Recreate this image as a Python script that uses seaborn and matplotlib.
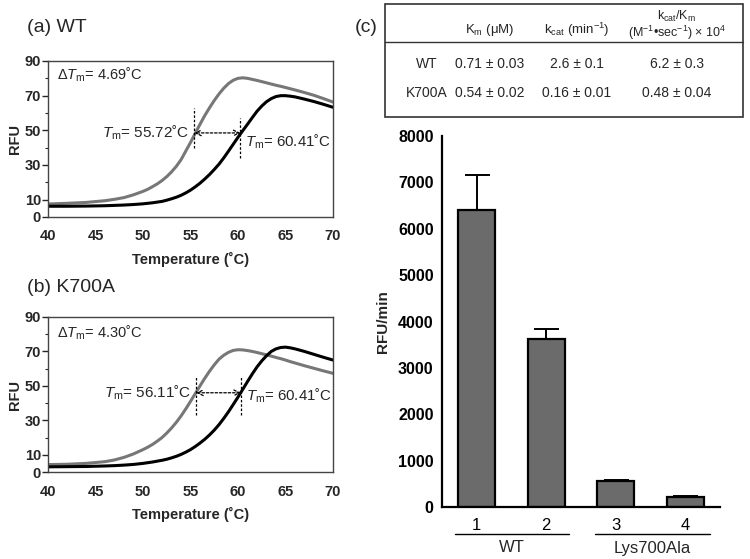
import numpy as np
import pandas as pd
import matplotlib
matplotlib.use("Agg")
import matplotlib.pyplot as plt
from matplotlib.ticker import MultipleLocator, FixedLocator
import seaborn as sns

sns.set_theme(style="white")
plt.rcParams["font.family"] = ["Liberation Sans", "DejaVu Sans"]
plt.rcParams["mathtext.fontset"] = "custom"
plt.rcParams["mathtext.rm"] = "Liberation Sans"
plt.rcParams["mathtext.it"] = "Liberation Sans:italic"
plt.rcParams["mathtext.bf"] = "Liberation Sans:bold"

# --- Melt curve data ---
temp = [40, 42, 44, 46, 47, 48, 49, 50, 50.5, 51, 51.5, 52, 52.5, 53, 53.5, 54,
        54.5, 55, 55.5, 56, 56.5, 57, 57.5, 58, 58.5, 59, 59.5, 60, 60.5, 61,
        61.5, 62, 62.5, 63, 63.5, 64, 64.5, 65, 65.5, 66, 67, 68, 69, 70]

wt_gray = [7.5, 7.9, 8.4, 9.4, 10.2, 11.2, 12.8, 14.8, 16.0, 17.5, 19.1, 21.0,
           23.3, 26.0, 29.2, 33.0, 38.0, 43.0, 48.3, 53.5, 58.5, 63.0, 67.2, 71.0,
           74.3, 77.0, 78.9, 80.0, 80.3, 80.0, 79.4, 78.8, 78.1, 77.4, 76.7, 76.0,
           75.4, 74.7, 74.0, 73.3, 71.8, 70.2, 68.3, 66.3]
wt_black = [6.2, 6.2, 6.3, 6.5, 6.7, 6.9, 7.2, 7.6, 7.9, 8.2, 8.6, 9.0,
            9.7, 10.5, 11.4, 12.5, 13.9, 15.5, 17.4, 19.5, 21.9, 24.5, 27.4, 30.5,
            34.1, 38.0, 42.0, 46.0, 49.8, 53.5, 57.3, 61.0, 64.0, 66.5, 68.3, 69.5,
            70.0, 70.0, 69.7, 69.3, 68.0, 66.6, 65.0, 63.3]

k7_gray = [4.3, 4.5, 5.0, 6.0, 7.0, 8.5, 10.5, 13.0, 14.4, 16.0, 17.9, 20.0,
           22.6, 25.5, 28.8, 32.5, 36.6, 41.0, 45.5, 50.0, 54.4, 58.5, 62.2, 65.5,
           67.8, 69.5, 70.6, 71.0, 70.9, 70.5, 70.0, 69.4, 68.7, 68.0, 67.3, 66.5,
           65.8, 65.0, 64.1, 63.3, 61.7, 60.2, 58.7, 57.3]
k7_black = [3.0, 3.1, 3.2, 3.5, 3.7, 4.0, 4.4, 5.0, 5.4, 5.8, 6.3, 6.8,
            7.4, 8.2, 9.1, 10.2, 11.5, 13.0, 14.8, 16.8, 19.0, 21.5, 24.3, 27.5,
            31.1, 35.0, 39.2, 43.5, 48.0, 52.5, 56.9, 61.0, 64.5, 67.5, 70.0, 71.5,
            72.3, 72.5, 72.1, 71.5, 70.0, 68.3, 66.6, 65.0]

# --- Activity bars ---
bar_labels = ["1", "2", "3", "4"]
bar_values = [6400, 3620, 550, 215]
bar_errors = [760, 210, 25, 12]
group_names = ["WT", "Lys700Ala"]

# --- Kinetic table ---
table_rows = ["WT", "K700A"]
km_vals = ["0.71 ± 0.03", "0.54 ± 0.02"]
kcat_vals = ["2.6 ± 0.1", "0.16 ± 0.01"]
eff_vals = ["6.2 ± 0.3", "0.48 ± 0.04"]

GRAY = "#777777"
W, H = 750, 559


def fx(px):
    return px / W


def fy(py):
    return 1 - py / H


fig = plt.figure(figsize=(7.5, 5.59), dpi=100)


def melt_panel(rect, gray, black, dtm, tm_l, tm_r, xg, xb, y_arrow, vspan_g, vspan_b, y_dtm, y_right):
    ax = fig.add_axes(rect)
    df = pd.DataFrame({"T": temp, "g": gray, "b": black})
    sns.lineplot(data=df, x="T", y="g", color=GRAY, lw=2.2, ax=ax)
    sns.lineplot(data=df, x="T", y="b", color="black", lw=2.2, ax=ax)
    ax.set_xlim(40, 70)
    ax.set_ylim(0, 90)
    ax.yaxis.set_major_locator(FixedLocator([0, 10, 30, 50, 70, 90]))
    ax.yaxis.set_minor_locator(FixedLocator([20, 40, 60, 80]))
    ax.xaxis.set_major_locator(MultipleLocator(5))
    ax.tick_params(axis="y", which="major", left=True, length=4, width=1, direction="out", pad=1)
    ax.tick_params(axis="y", which="minor", left=True, length=2, width=0.8, direction="out")
    ax.tick_params(axis="x", bottom=False, pad=3)
    for lab in ax.get_xticklabels() + ax.get_yticklabels():
        lab.set_fontweight("bold")
        lab.set_fontsize(10.5)
    for s in ax.spines.values():
        s.set_color("#444444")
        s.set_linewidth(1.0)
    ax.set_xlabel("Temperature (˚C)", fontsize=10.5, fontweight="bold", labelpad=6)
    ax.set_ylabel("RFU", fontsize=10.5, fontweight="bold", labelpad=2)
    ax.vlines(xg, *vspan_g, colors="black", linestyles=(0, (2, 1.5)), lw=0.9)
    ax.vlines(xb, *vspan_b, colors="black", linestyles=(0, (2, 1.5)), lw=0.9)
    ax.annotate("", xy=(xg, y_arrow), xytext=(xb, y_arrow),
                arrowprops=dict(arrowstyle="<->", ls=(0, (2, 1.5)), lw=0.9, color="black",
                                shrinkA=0, shrinkB=0, mutation_scale=10))
    ax.text(xg - 0.5, y_arrow, r"$\it{T}_\mathrm{m}$= " + tm_l + "˚C", ha="right", va="center", fontsize=11)
    ax.text(xb + 0.5, y_right, r"$\it{T}_\mathrm{m}$= " + tm_r + "˚C", ha="left", va="center", fontsize=10.8)
    ax.text(40.9, y_dtm, r"Δ$\it{T}_\mathrm{m}$= " + dtm + "˚C", ha="left", va="center", fontsize=10.5)
    return ax


ax_a = melt_panel([fx(48), fy(217), fx(285), 156 / H], wt_gray, wt_black, "4.69", "55.72", "60.41",
                  55.4, 60.25, 48.5, (40, 63), (34, 57), 82, 43.5)
ax_b = melt_panel([fx(48), fy(472), fx(285), 155 / H], k7_gray, k7_black, "4.30", "56.11", "60.41",
                  55.6, 60.3, 46, (33, 56), (33, 56), 81, 44.5)

fig.text(fx(27), fy(28), "(a) WT", fontsize=14, ha="left", va="center")
fig.text(fx(27), fy(287), "(b) K700A", fontsize=14, ha="left", va="center")
fig.text(fx(355), fy(28), "(c)", fontsize=14, ha="left", va="center")

# --- Table (c) ---
tab = fig.add_axes([0, 0, 1, 1], facecolor="none")
tab.set_xlim(0, W)
tab.set_ylim(H, 0)
tab.axis("off")
tab.add_patch(plt.Rectangle((385, 4), 358, 113, fill=False, ec="#333333", lw=1.2))
tab.plot([385, 743], [42, 42], color="#333333", lw=1.0)
col_x = [427, 490, 577, 677]
tab.text(col_x[1], 30, r"K$_\mathrm{m}$ (μM)", ha="center", va="center", fontsize=9.5)
tab.text(col_x[2], 30, r"k$_\mathrm{cat}$ (min$^{-1}$)", ha="center", va="center", fontsize=9.5)
tab.text(col_x[3], 16, r"k$_\mathrm{cat}$/K$_\mathrm{m}$", ha="center", va="center", fontsize=9)
tab.text(col_x[3], 33, r"(M$^{-1}$•sec$^{-1}$) × 10$^4$", ha="center", va="center", fontsize=9)
for i, name in enumerate(table_rows):
    yy = 64 + 29 * i
    tab.text(col_x[0], yy, name, ha="center", va="center", fontsize=10)
    tab.text(col_x[1], yy, km_vals[i], ha="center", va="center", fontsize=10)
    tab.text(col_x[2], yy, kcat_vals[i], ha="center", va="center", fontsize=10)
    tab.text(col_x[3], yy, eff_vals[i], ha="center", va="center", fontsize=10)

# --- Bar chart (c) ---
ax_c = fig.add_axes([fx(442), fy(507), fx(278), 371 / H])
bdf = pd.DataFrame({"lane": bar_labels, "rate": bar_values})
sns.barplot(data=bdf, x="lane", y="rate", color="#6b6b6b", saturation=1, width=0.53,
            edgecolor="black", linewidth=1.6, ax=ax_c)
xs = np.arange(len(bar_values))
ax_c.errorbar(xs, bar_values, yerr=[np.zeros(len(bar_errors)), bar_errors], fmt="none",
              ecolor="black", elinewidth=1.4, capsize=9, capthick=1.4, zorder=1)
ax_c.set_xlim(-0.5, 3.5)
ax_c.set_ylim(0, 8000)
ax_c.yaxis.set_major_locator(MultipleLocator(1000))
sns.despine(ax=ax_c)
for s in ["left", "bottom"]:
    ax_c.spines[s].set_color("black")
    ax_c.spines[s].set_linewidth(1.6)
ax_c.tick_params(axis="both", length=5, width=1.6, direction="out", colors="black", pad=1)
ax_c.tick_params(axis="x", pad=3)
for lab in ax_c.get_yticklabels():
    lab.set_fontweight("bold")
    lab.set_fontsize(11.5)
for lab in ax_c.get_xticklabels():
    lab.set_fontsize(12)
ax_c.set_xlabel("")
ax_c.set_ylabel("RFU/min", fontsize=11, fontweight="bold", labelpad=6)

tab.plot([455, 569], [534, 534], color="black", lw=1.0)
tab.plot([595, 710], [534, 534], color="black", lw=1.0)
tab.text(512, 548, group_names[0], ha="center", va="center", fontsize=12)
tab.text(652, 548, group_names[1], ha="center", va="center", fontsize=12)

fig.savefig("out.png", dpi=100)
